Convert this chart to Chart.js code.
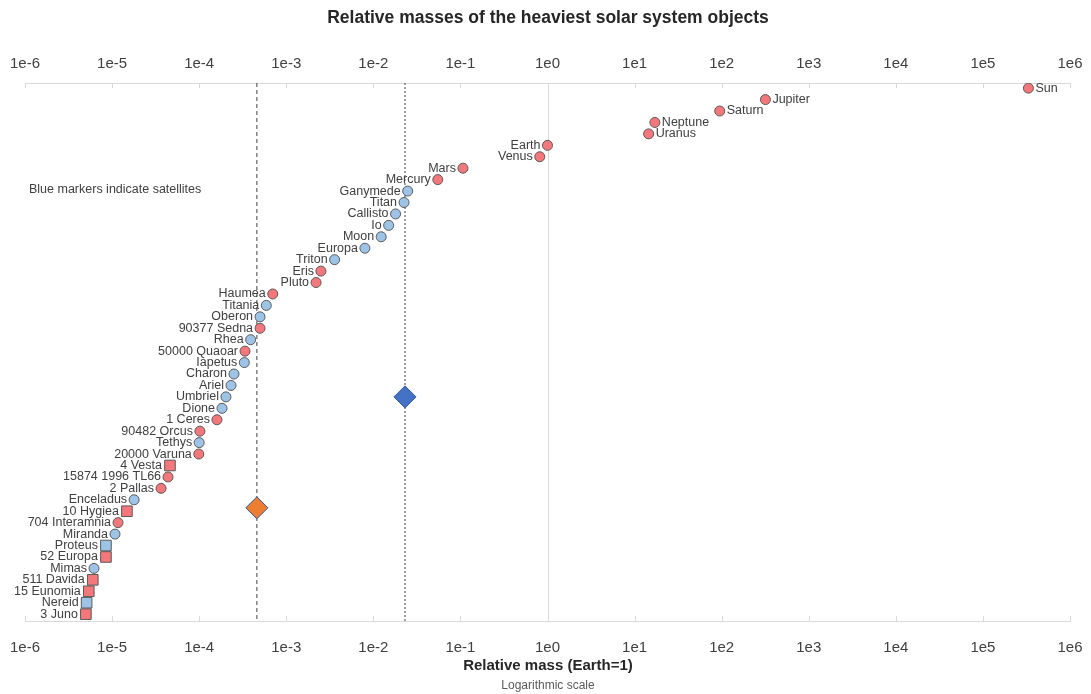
<!DOCTYPE html>
<html>
<head>
<meta charset="utf-8">
<title>Relative masses of the heaviest solar system objects</title>
<script src="https://cdn.jsdelivr.net/npm/chart.js@4/dist/chart.umd.min.js"></script>
<style>
  html, body { margin: 0; padding: 0; background: #ffffff; }
  #wrap { position: relative; width: 1091px; height: 694px; }
</style>
</head>
<body>
<div id="wrap"><canvas id="chart" width="1091" height="694"></canvas></div>
<script>
// Object names, heaviest first
const names = [
  'Sun', 'Jupiter', 'Saturn', 'Neptune', 'Uranus', 'Earth', 'Venus', 'Mars', 'Mercury',
  'Ganymede', 'Titan', 'Callisto', 'Io', 'Moon', 'Europa', 'Triton', 'Eris', 'Pluto',
  'Haumea', 'Titania', 'Oberon', '90377 Sedna', 'Rhea', '50000 Quaoar', 'Iapetus',
  'Charon', 'Ariel', 'Umbriel', 'Dione', '1 Ceres', '90482 Orcus', 'Tethys',
  '20000 Varuna', '4 Vesta', '15874 1996 TL66', '2 Pallas', 'Enceladus', '10 Hygiea',
  '704 Interamnia', 'Miranda', 'Proteus', '52 Europa', 'Mimas', '511 Davida',
  '15 Eunomia', 'Nereid', '3 Juno'
];

// Mass relative to Earth
const masses = [
  333000, 318, 95, 17.1, 14.5, 1, 0.815, 0.107, 0.055,
  0.0248, 0.0225, 0.018, 0.015, 0.0123, 0.008, 0.00359, 0.0025, 0.0022,
  0.0007, 0.00059, 0.0005, 0.0005, 0.00039, 0.000336, 0.00033,
  0.000251, 0.000232, 0.000203, 0.000183, 0.00016, 0.000102, 0.0001,
  0.000099, 0.0000462, 0.0000439, 0.0000365, 0.0000179, 0.0000148,
  0.0000117, 0.0000108, 0.0000085, 0.0000085, 0.0000062, 0.000006,
  0.0000054, 0.0000051, 0.000005
];

// 1 = satellite (blue marker), 0 = other body (red marker)
const satellite = [
  0, 0, 0, 0, 0, 0, 0, 0, 0,
  1, 1, 1, 1, 1, 1, 1, 0, 0,
  0, 1, 1, 0, 1, 0, 1,
  1, 1, 1, 1, 0, 0, 1,
  0, 0, 0, 0, 1, 0,
  0, 1, 1, 0, 1, 0,
  0, 1, 0
];

// 1 = square marker, 0 = round marker
const squareMarker = [
  0, 0, 0, 0, 0, 0, 0, 0, 0,
  0, 0, 0, 0, 0, 0, 0, 0, 0,
  0, 0, 0, 0, 0, 0, 0,
  0, 0, 0, 0, 0, 0, 0,
  0, 1, 0, 0, 0, 1,
  0, 0, 1, 1, 0, 1,
  1, 1, 1
];

// Reference masses shown as diamonds with vertical guide lines
const refMasses = [0.0231, 0.00046];
const refRows = [27, 36.7];
const refColors = ['#4472c4', '#ed7d31'];
const refDash = [[2, 2], [4, 3]];

// Decade ticks of the logarithmic axes
const tickExponents = [-6, -5, -4, -3, -2, -1, 0, 1, 2, 3, 4, 5, 6];

const ROW_MIN = -0.45;
const ROW_MAX = 46.6;
const AXIS_COLOR = '#d9d9d9';
const TEXT_COLOR = '#404040';
const FONT = '"Liberation Sans", Arial, sans-serif';

const objectPoints = names.map((n, i) => ({ x: masses[i], y: i }));
const refPoints = refMasses.map((m, i) => ({ x: m, y: refRows[i] }));

const decadeTicks = (scale) => {
  scale.ticks = tickExponents.map(e => ({ value: Math.pow(10, e) }));
};
const decadeLabel = (value) => '1e' + Math.round(Math.log10(value));

// Fixed axis band height; end labels may overhang the plot edges
const fixHeight = (h) => (scale) => {
  scale.height = h;
  scale.paddingLeft = 0;
  scale.paddingRight = 0;
};

// Labels beside each marker, frame ticks, the 1e0 reference line and the titles
const decorations = {
  id: 'decorations',
  beforeDatasetsDraw(chart) {
    const { ctx, chartArea } = chart;
    const xs = chart.scales.x;
    ctx.save();
    ctx.strokeStyle = AXIS_COLOR;
    ctx.lineWidth = 1;
    const x1 = Math.round(xs.getPixelForValue(1)) + 0.5;
    ctx.beginPath();
    ctx.moveTo(x1, chartArea.top);
    ctx.lineTo(x1, chartArea.bottom);
    ctx.stroke();
    tickExponents.forEach(e => {
      const px = Math.round(xs.getPixelForValue(Math.pow(10, e))) + 0.5;
      ctx.beginPath();
      ctx.moveTo(px, chartArea.top);
      ctx.lineTo(px, chartArea.top + 5);
      ctx.moveTo(px, chartArea.bottom);
      ctx.lineTo(px, chartArea.bottom - 5);
      ctx.stroke();
    });
    ctx.restore();
  },
  afterDatasetsDraw(chart) {
    const { ctx } = chart;
    const meta = chart.getDatasetMeta(0);
    ctx.save();
    ctx.font = '12.5px ' + FONT;
    ctx.fillStyle = TEXT_COLOR;
    ctx.textBaseline = 'middle';
    meta.data.forEach((pt, i) => {
      const off = squareMarker[i] ? 8 : 7;
      if (masses[i] > 10) {
        ctx.textAlign = 'left';
        ctx.fillText(names[i], pt.x + off, pt.y);
      } else {
        ctx.textAlign = 'right';
        ctx.fillText(names[i], pt.x - off, pt.y);
      }
    });
    ctx.textAlign = 'left';
    ctx.fillText('Blue markers indicate satellites', 29, 190);

    ctx.textAlign = 'center';
    ctx.fillStyle = '#262626';
    ctx.font = 'bold 17.5px ' + FONT;
    ctx.fillText('Relative masses of the heaviest solar system objects', 548, 18);
    ctx.font = 'bold 15px ' + FONT;
    ctx.fillText('Relative mass (Earth=1)', 548, 666);
    ctx.fillStyle = '#595959';
    ctx.font = '12px ' + FONT;
    ctx.fillText('Logarithmic scale', 548, 686);
    ctx.restore();
  }
};

const axisBase = {
  type: 'logarithmic',
  min: 1e-6,
  max: 1e6,
  afterBuildTicks: decadeTicks,
  grid: { display: false, drawTicks: false, tickLength: 0 },
  border: { display: true, color: AXIS_COLOR, width: 1 },
  ticks: {
    callback: decadeLabel,
    color: TEXT_COLOR,
    font: { family: FONT, size: 15 },
    maxRotation: 0,
    autoSkip: false
  }
};

new Chart(document.getElementById('chart'), {
  type: 'scatter',
  data: {
    datasets: [
      {
        data: objectPoints,
        pointStyle: ctx => squareMarker[ctx.dataIndex] ? 'rect' : 'circle',
        pointRadius: ctx => squareMarker[ctx.dataIndex] ? 7.5 : 5,
        backgroundColor: ctx => satellite[ctx.dataIndex] ? '#9dc3e6' : '#f4777b',
        borderColor: '#5a5a5a',
        borderWidth: 1
      },
      {
        data: refPoints,
        pointStyle: 'rectRot',
        pointRadius: 11,
        backgroundColor: refColors,
        borderColor: '#2f5597',
        borderWidth: 1
      },
      {
        data: [{ x: refMasses[0], y: ROW_MIN }, { x: refMasses[0], y: ROW_MAX }],
        showLine: true,
        pointRadius: 0,
        borderColor: '#404040',
        borderWidth: 1,
        borderDash: refDash[0]
      },
      {
        data: [{ x: refMasses[1], y: ROW_MIN }, { x: refMasses[1], y: ROW_MAX }],
        showLine: true,
        pointRadius: 0,
        borderColor: '#404040',
        borderWidth: 1,
        borderDash: refDash[1]
      }
    ]
  },
  options: {
    responsive: false,
    animation: false,
    layout: { padding: { left: 25, right: 21, top: 53, bottom: 33 } },
    plugins: {
      legend: { display: false },
      tooltip: { enabled: false },
      title: { display: false }
    },
    scales: {
      x: Object.assign({}, axisBase, {
        position: 'bottom',
        ticks: Object.assign({}, axisBase.ticks, { padding: 18 }),
        afterFit: fixHeight(40)
      }),
      x2: Object.assign({}, axisBase, {
        position: 'top',
        ticks: Object.assign({}, axisBase.ticks, { padding: 10 }),
        afterFit: fixHeight(30)
      }),
      y: {
        type: 'linear',
        display: false,
        reverse: true,
        min: ROW_MIN,
        max: ROW_MAX
      }
    }
  },
  plugins: [decorations]
});
</script>
</body>
</html>
